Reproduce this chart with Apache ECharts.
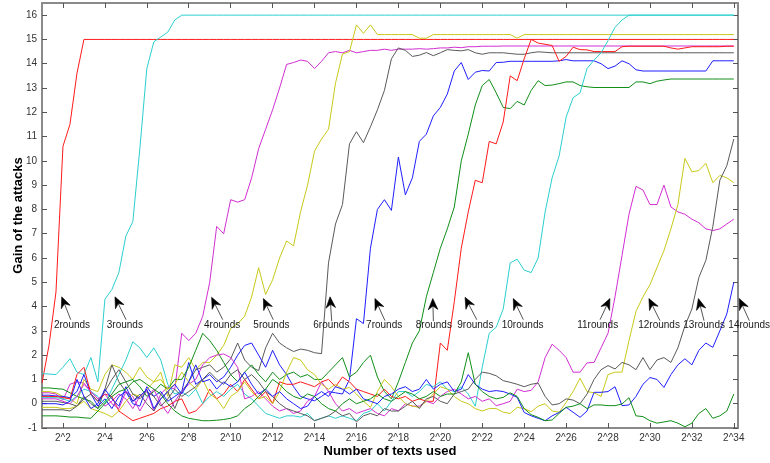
<!DOCTYPE html>
<html><head><meta charset="utf-8">
<script src="https://cdn.jsdelivr.net/npm/echarts@6/dist/echarts.min.js"></script>
<style>html,body{margin:0;padding:0;background:#fff}#c{width:770px;height:463px}</style>
</head><body><div id="c"></div>
<script>
// x tick exponents and labels
const xTicks = [2,4,6,8,10,12,14,16,18,20,22,24,26,28,30,32,34];
const xTickLabels = ['2^2','2^4','2^6','2^8','2^10','2^12','2^14','2^16','2^18','2^20','2^22','2^24','2^26','2^28','2^30','2^32','2^34'];
const yTicks = [-1,0,1,2,3,4,5,6,7,8,9,10,11,12,13,14,15,16];
const seriesNames = ['2rounds','3rounds','4rounds','5rounds','6rounds','7rounds','8rounds','9rounds','10rounds','11rounds','12rounds','13rounds','14rounds','15rounds'];

const r2 = [0.85,2.4,4.6,10.6,11.5,13.6,15,15,15,15,
 15,15,15,15,15,15,15,15,15,15,
 15,15,15,15,15,15,15,15,15,15,
 15,15,15,15,15,15,15,15,15,15,
 15,15,15,15,15,15,15,15,15,15,
 15,15,15,15,15,15,15,15,15,15,
 15,15,15,15,15,15,15,15,15,15,
 15,15,15,15,15,15,15,15,15,15,
 15,15,15,15,15,15,15,15,15,15,
 15,15,15,15,15,15,15,15,15,15];
const r3 = [1.24,1.22,1.2,1.5,1.85,1.3,1.2,1.9,0.9,4.3,
 4.7,5.4,6.9,7.5,10.5,13.8,14.9,15.1,15.3,15.8,
 16,16,16,16,16,16,16,16,16,16,
 16,16,16,16,16,16,16,16,16,16,
 16,16,16,16,16,16,16,16,16,16,
 16,16,16,16,16,16,16,16,16,16,
 16,16,16,16,16,16,16,16,16,16,
 16,16,16,16,16,16,16,16,16,16,
 16,16,16,16,16,16,16,16,16,16,
 16,16,16,16,16,16,16,16,16,16];
const r4 = [0.45,0.45,0.4,0.15,0.8,0.9,0.85,0.5,0.2,-0.1,
 0.1,0.4,0.2,-0.2,0.3,0.55,-0.3,0.4,0.7,0.6,
 2.9,2.6,2.9,3.6,5.0,7.3,7.0,8.4,8.3,8.4,
 9.3,10.5,11.3,12.1,13.0,13.97,14.05,14.15,14.1,13.8,
 14.1,14.45,14.5,14.45,14.55,14.45,14.5,14.55,14.55,14.6,
 14.55,14.6,14.6,14.6,14.62,14.6,14.62,14.65,14.65,14.68,
 14.66,14.7,14.7,14.72,14.72,14.72,14.73,14.73,14.73,14.73,
 14.73,14.73,14.73,14.73,14.73,14.73,14.73,14.73,14.73,14.73,
 14.73,14.73,14.73,14.73,14.73,14.73,14.73,14.73,14.73,14.73,
 14.73,14.73,14.73,14.73,14.73,14.73,14.73,14.73,14.73,14.73];
const r5 = [0.5,0.5,0.45,0.3,0.2,0.0,1.0,0.6,0.5,1.2,
 1.6,1.5,1.3,1.0,1.5,1.1,0.9,1.3,0.3,1.6,
 1.5,1.9,1.4,1.7,1.7,2.0,2.4,3.1,3.3,3.6,
 4.4,5.6,4.5,5.1,6.0,6.7,6.5,7.9,9.0,10.4,
 10.9,11.3,13.2,14.4,14.5,15.6,15.25,15.6,15.2,15.2,
 15.2,15.2,15.2,15.2,15.05,15.05,15.2,15.2,15.2,15.2,
 15.2,15.2,15.2,15.2,15.2,15.2,15.2,15.2,15.05,15.2,
 15.2,15.2,15.2,15.2,15.2,15.2,15.2,15.2,15.2,15.2,
 15.2,15.2,15.2,15.2,15.2,15.2,15.2,15.2,15.2,15.2,
 15.2,15.2,15.2,15.2,15.2,15.2,15.2,15.2,15.2,15.2];
const r6 = [0.1,0.1,0.1,0.05,0.0,-0.1,0.3,0.0,-0.2,0.6,
 1.6,0.9,0.5,0.1,0.4,0.0,-0.3,0.2,0.5,-0.2,
 0.5,0.9,1.4,1.5,1.6,1.3,1.5,1.85,2.5,1.8,
 1.5,1.36,2.3,2.9,2.5,2.3,2.15,2.25,2.2,2.1,
 2.06,5.8,7.4,8.2,10.7,11.2,10.75,11.4,12.1,12.9,
 14.2,14.65,14.55,14.3,14.35,14.46,14.33,14.45,14.58,14.55,
 14.53,14.58,14.45,14.39,14.45,14.45,14.45,14.42,14.39,14.39,
 14.45,14.49,14.47,14.45,14.45,14.45,14.45,14.45,14.45,14.45,
 14.45,14.45,14.45,14.45,14.45,14.45,14.45,14.45,14.45,14.45,
 14.45,14.45,14.45,14.45,14.45,14.45,14.45,14.45,14.45,14.45];
const r7 = [0.35,0.35,0.32,0.3,0.25,0.5,1.2,0.4,-0.1,0.2,
 -0.2,0.3,0.5,0.0,-0.1,0.7,0.3,0.5,0.1,0.3,
 0.5,1.7,0.8,1.0,1.2,0.9,1.1,1.5,2.0,2.4,
 2.5,2.0,1.5,2.2,1.6,1.2,0.7,0.3,0.2,0.12,
 0.3,0.5,0.45,0.4,1.0,3.5,3.3,6.4,8.0,8.4,
 7.96,10.16,8.6,9.3,10.8,11.1,11.85,12.2,12.75,13.7,
 14.05,13.35,13.65,13.72,13.7,14.05,14.06,14.1,14.1,14.1,
 14.1,14.1,14.1,14.1,14.12,14.17,14.12,14.12,14.12,14.12,
 14.0,13.8,13.9,14.12,14.0,13.75,13.7,13.7,13.7,13.7,
 13.7,13.7,13.7,13.7,13.7,13.7,14.12,14.12,14.12,14.12];
const r8 = [0.65,0.65,0.62,0.6,0.45,0.3,0.2,0.1,-0.2,0.1,
 0.4,0.8,0.9,1.0,0.7,0.3,0.5,0.8,0.6,1.0,
 1.0,1.5,2.2,2.9,2.6,2.2,1.7,1.2,0.9,1.3,
 1.6,1.2,0.9,1.3,1.0,1.2,1.3,1.1,1.2,1.0,
 1.0,1.3,1.6,1.9,1.1,1.3,1.7,2.0,1.1,0.5,
 0.2,0.9,1.7,2.5,3.0,4.4,5.4,6.4,7.2,8.1,
 10.0,11.1,12.3,13.1,13.35,12.8,12.2,12.15,12.45,12.3,
 12.9,13.3,13.1,13.12,13.18,13.25,13.25,13.1,13.05,13.02,
 13.02,13.02,13.02,13.02,13.02,13.25,13.25,13.18,13.28,13.33,
 13.37,13.37,13.37,13.37,13.37,13.37,13.37,13.37,13.37,13.37];
const r9 = [0.3,0.3,0.3,0.25,0.2,1.2,1.5,0.4,0.1,0.4,
 0.3,-0.3,-0.5,-0.7,-0.6,-0.5,-0.4,-0.2,-0.1,0.1,
 0.2,-0.4,-0.3,0.0,0.6,0.2,0.4,0.8,0.5,1.0,
 0.6,0.2,0.5,0.0,0.9,0.8,0.8,0.9,0.8,0.7,
 0.9,1.0,0.7,1.1,0.9,0.6,0.5,0.4,0.3,0.6,
 0.3,0.2,0.3,0.1,0.2,0.1,0.1,2.5,2.2,4.2,
 6.4,7.9,9.2,9.1,10.8,10.7,11.6,13.5,13.3,14.2,
 15.0,14.85,14.8,14.75,14.1,14.3,14.68,14.58,14.57,14.5,
 14.5,14.5,14.5,14.7,14.72,14.72,14.72,14.72,14.72,14.72,
 14.65,14.6,14.65,14.7,14.7,14.7,14.7,14.7,14.72,14.72];
const r10 = [0.25,0.25,0.25,0.2,0.1,0.3,0.6,0.5,0.3,0.0,
 0.6,1.2,1.8,2.55,2.3,1.9,2.3,1.8,0.8,0.4,
 0.5,0.3,0.6,0.0,0.3,0.5,0.3,0.6,0.8,0.4,
 0.2,-0.1,-0.4,-0.5,-0.6,-0.5,-0.5,-0.55,-0.4,-0.7,
 -0.6,-0.5,-0.6,-0.5,-0.6,-0.7,-0.4,-0.3,0.0,-0.3,
 0.1,0.5,0.5,0.3,0.5,0.8,0.7,0.9,0.6,0.5,
 0.7,0.4,-0.1,1.5,2.9,3.15,3.9,5.8,5.95,5.5,
 5.4,6.0,7.9,9.3,10.2,11.8,12.6,12.8,13.8,14.15,
 14.45,14.95,15.5,15.8,16,16,16,16,16,16,
 16,16,16,16,16,16,16,16,16,16];
const r11 = [0.2,0.2,0.2,0.1,0.0,0.3,0.8,0.5,0.2,0.4,
 0.0,-0.2,0.5,0.3,-0.3,0.2,0.6,0.0,-0.4,0.1,
 0.5,0.8,1.0,1.6,1.9,2.0,2.05,1.9,1.5,0.2,
 0.3,0.5,0.2,-0.1,-0.3,-0.2,-0.4,-0.3,0.1,0.3,
 0.9,0.5,0.0,-0.3,-0.2,-0.4,-0.3,-0.2,-0.4,-0.5,
 -0.2,-0.3,0.0,-0.1,-0.1,0.1,0.0,0.3,0.5,0.6,
 0.4,0.2,0.3,0.1,0.2,-0.08,0.0,0.1,0.6,0.5,
 0.55,0.9,1.9,2.45,2.2,1.9,1.3,1.3,1.68,1.7,
 2.3,2.9,4.4,6.1,7.8,8.95,8.8,8.2,8.2,9.0,
 8.1,7.9,7.8,7.6,7.45,7.2,7.13,7.2,7.4,7.6];
const r12 = [-0.15,-0.15,-0.15,-0.2,-0.2,-0.1,0.1,-0.2,-0.3,-0.4,
 -0.55,-0.3,0.1,0.4,0.3,0.6,0.9,1.0,0.6,0.8,
 1.3,0.9,0.6,1.0,0.4,0.2,-0.2,0.3,0.5,0.9,
 0.5,0.2,0.3,0.0,0.5,1.3,1.9,1.8,1.4,1.2,
 0.8,0.6,0.8,0.6,0.67,0.4,0.1,-0.15,0.5,1.0,
 0.7,0.3,0.0,-0.1,-0.15,0.1,0.4,0.7,0.6,0.3,
 0.1,0.0,-0.2,-0.3,-0.2,-0.2,-0.35,-0.4,-0.15,-0.2,
 -0.33,-0.1,0.0,-0.3,-0.35,0.05,0.5,1.05,0.5,0.45,
 0.3,1.2,1.3,1.3,2.6,3.8,4.4,4.9,5.6,6.3,
 7.2,8.2,10.1,9.55,9.6,9.9,9.1,9.4,9.3,9.1];
const r13 = [-0.25,-0.25,-0.25,-0.25,-0.3,-0.1,0.2,0.4,0.1,0.5,
 1.0,1.4,0.9,0.4,0.2,0.5,0.3,-0.1,0.2,0.6,
 0.3,0.5,0.7,1.0,1.3,1.0,0.8,1.2,1.4,1.0,
 1.2,0.9,0.5,0.3,0.0,-0.2,-0.3,-0.4,-0.5,-0.7,
 -0.6,-0.5,-0.3,-0.5,-0.4,-0.75,-0.5,-0.4,-0.5,-0.2,
 -0.3,-0.3,-0.1,0.1,-0.2,0.2,0.3,0.1,0.0,0.4,
 0.5,0.6,1.0,1.3,1.25,1.15,0.95,0.88,0.8,0.7,
 0.8,0.85,0.3,-0.05,0.0,0.2,0.15,0.0,0.4,1.0,
 1.4,1.57,1.43,1.7,1.6,1.4,1.9,1.4,1.8,1.9,
 1.7,2.3,3.2,3.9,5.2,5.9,7.3,9.2,9.8,10.9];
const r14 = [0.0,0.0,0.0,-0.05,0.1,1.0,0.3,-0.2,0.0,0.6,
 0.2,-0.1,0.7,0.1,0.3,0.6,-0.2,0.2,0.5,0.8,
 0.4,0.9,1.6,0.9,1.0,0.6,0.9,0.7,0.9,1.3,
 0.8,0.4,0.6,0.3,0.5,0.2,0.0,-0.2,-0.1,0.3,
 0.5,0.3,0.7,0.6,0.4,0.6,0.2,0.1,0.0,0.3,
 0.4,0.6,0.7,0.5,0.6,1.0,0.6,0.8,0.9,0.5,
 0.6,1.2,0.8,0.6,0.5,0.54,0.5,0.4,0.26,-0.36,
 -0.5,-0.6,-0.7,-0.5,-0.36,-0.15,-0.35,-0.56,-0.3,0.47,
 0.47,0.5,0.7,-0.08,-0.05,0.3,0.8,1.08,1.0,0.67,
 1.2,1.6,1.85,1.6,2.2,2.5,2.32,3.0,3.7,5.0];
const r15 = [-0.5,-0.5,-0.5,-0.52,-0.55,-0.55,-0.58,-0.6,-0.3,0.0,
 0.3,0.5,0.6,0.9,1.0,0.8,0.6,0.4,0.0,-0.3,
 -0.5,-0.6,-0.65,-0.7,-0.7,-0.68,-0.65,-0.6,-0.5,-0.2,
 0.0,0.3,0.6,1.0,0.8,0.5,0.3,0.2,0.4,0.3,
 0.0,-0.2,-0.3,0.0,0.2,0.0,0.1,0.2,0.4,0.2,
 0.1,0.3,0.5,0.4,0.2,0.3,0.5,0.3,0.4,0.4,
 0.9,2.1,0.8,0.5,0.3,0.2,0.26,0.45,0.3,-0.2,
 -0.45,-0.56,-0.7,-0.67,-0.4,-0.15,-0.1,0.0,-0.2,-0.05,
 -0.05,-0.08,-0.08,-0.01,0.25,-0.5,-0.53,-0.7,-0.8,-0.75,
 -0.7,-0.8,-0.95,-0.8,-0.4,-0.2,-0.6,-0.5,-0.3,0.4];

const allSeries = [r2,r3,r4,r5,r6,r7,r8,r9,r10,r11,r12,r13,r14,r15];
// sample exponents: 2^1 ... 2^34 in steps of 1/3
const exps = Array.from({length:100},(_,i)=>1+i/3);

// annotation labels: arrow head, arrow tail, text anchor (in data units)
const annotations = [
 {label:'2rounds', head:[1.94,4.40], tail:[2.37,3.46], text:[1.57,3.22]},
 {label:'3rounds', head:[4.48,4.40], tail:[5.01,3.46], text:[4.09,3.22]},
 {label:'4rounds', head:[9.09,4.38], tail:[9.62,3.46], text:[8.73,3.24]},
 {label:'5rounds', head:[11.56,4.33], tail:[12.03,3.46], text:[11.08,3.24]},
 {label:'6rounds', head:[14.74,4.40], tail:[14.82,3.40], text:[13.94,3.22]},
 {label:'7rounds', head:[16.88,4.33], tail:[17.36,3.42], text:[16.46,3.22]},
 {label:'8rounds', head:[19.64,4.33], tail:[19.67,3.40], text:[18.83,3.22]},
 {label:'9rounds', head:[21.18,4.38], tail:[21.74,3.46], text:[20.81,3.22]},
 {label:'10rounds', head:[23.48,4.33], tail:[23.96,3.46], text:[22.93,3.22]},
 {label:'11rounds', head:[28.09,4.33], tail:[27.62,3.46], text:[26.53,3.22]},
 {label:'12rounds', head:[29.95,4.33], tail:[30.48,3.42], text:[29.44,3.22]},
 {label:'13rounds', head:[32.31,4.33], tail:[32.58,3.42], text:[31.59,3.22]},
 {label:'14rounds', head:[34.26,4.33], tail:[34.74,3.42], text:[33.74,3.22]}
];

const colors = ['#ff1a1a','#2ccfcf','#d22ed2','#c9c91a','#5a5a5a','#1f1fff','#118f18'];
const font = 'Liberation Sans, Arial, Helvetica, sans-serif';

const chart = echarts.init(document.getElementById('c'), null, {renderer:'canvas'});

const lineSeries = allSeries.map((arr, k) => ({
  name: seriesNames[k],
  type: 'line',
  data: exps.map((x, i) => [x, arr[i]]),
  showSymbol: false,
  symbol: 'none',
  lineStyle: {width: 1, color: colors[k % 7]},
  itemStyle: {color: colors[k % 7]},
  emphasis: {disabled: true},
  animation: false,
  z: 2
}));

const annoSeries = {
  type: 'custom',
  xAxisIndex: 0, yAxisIndex: 0,
  clip: false,
  animation: false,
  silent: true,
  z: 5,
  data: annotations.map(a => [a.head[0], a.head[1], a.tail[0], a.tail[1], a.text[0], a.text[1]]),
  renderItem: function (params, api) {
    const h = api.coord([api.value(0), api.value(1)]);
    const t = api.coord([api.value(2), api.value(3)]);
    const p = api.coord([api.value(4), api.value(5)]);
    const dx = h[0] - t[0], dy = h[1] - t[1];
    const len = Math.sqrt(dx*dx + dy*dy) || 1;
    const ux = dx/len, uy = dy/len, nx = -uy, ny = ux;
    const L = 11, W = 4.8, N = 7.5;
    const bx = h[0] - ux*L, by = h[1] - uy*L;
    const pts = [[h[0], h[1]], [bx + nx*W, by + ny*W], [h[0] - ux*N, h[1] - uy*N], [bx - nx*W, by - ny*W]];
    return {
      type: 'group',
      children: [
        {type: 'line', shape: {x1: t[0], y1: t[1], x2: h[0] - ux*6, y2: h[1] - uy*6}, style: {stroke: '#555', lineWidth: 1}},
        {type: 'polygon', shape: {points: pts}, style: {fill: '#000', stroke: '#000', lineWidth: 0.6}},
        {type: 'text', x: p[0], y: p[1], style: {text: annotations[params.dataIndex].label, fill: '#1a1a1a', font: '10px ' + font, align: 'left', verticalAlign: 'middle'}}
      ]
    };
  }
};

const axisLineStyle = {color: '#8a8a8a', width: 2};

chart.setOption({
  animation: false,
  backgroundColor: '#fff',
  grid: {left: 42, right: 32, top: 3, bottom: 35, containLabel: false, outerBoundsMode: 'none'},
  xAxis: [{
    type: 'value', min: 1, max: 34.2, position: 'bottom',
    name: 'Number of texts used', nameLocation: 'middle', nameGap: 17, nameMoveOverlap: false,
    nameTextStyle: {fontFamily: font, fontSize: 13, fontWeight: 'bold', color: '#000'},
    axisLine: {show: true, onZero: false, lineStyle: axisLineStyle},
    axisTick: {show: true, inside: true, length: 5, customValues: xTicks, lineStyle: {color: '#555'}},
    axisLabel: {show: true, customValues: xTicks, margin: 5, fontFamily: font, fontSize: 10, color: '#333',
      formatter: v => xTickLabels[xTicks.indexOf(v)]},
    splitLine: {show: false}
  }, {
    type: 'value', min: 1, max: 34.2, position: 'top',
    axisLine: {show: true, onZero: false, lineStyle: axisLineStyle},
    axisTick: {show: true, inside: true, length: 5, customValues: xTicks, lineStyle: {color: '#555'}},
    axisLabel: {show: false},
    splitLine: {show: false}
  }],
  yAxis: [{
    type: 'value', min: -1, max: 16.5, position: 'left',
    name: 'Gain of the attacks', nameLocation: 'middle', nameGap: 17, nameRotate: 90, nameMoveOverlap: false,
    nameTextStyle: {fontFamily: font, fontSize: 13, fontWeight: 'bold', color: '#000'},
    axisLine: {show: true, onZero: false, lineStyle: axisLineStyle},
    axisTick: {show: true, inside: true, length: 5, customValues: yTicks, lineStyle: {color: '#555'}},
    axisLabel: {show: true, customValues: yTicks, margin: 5, fontFamily: font, fontSize: 10, color: '#333'},
    splitLine: {show: false}
  }, {
    type: 'value', min: -1, max: 16.5, position: 'right',
    axisLine: {show: true, onZero: false, lineStyle: axisLineStyle},
    axisTick: {show: true, inside: true, length: 5, customValues: yTicks, lineStyle: {color: '#555'}},
    axisLabel: {show: false},
    splitLine: {show: false}
  }],
  series: lineSeries.concat([annoSeries])
});
</script>
</body></html>
